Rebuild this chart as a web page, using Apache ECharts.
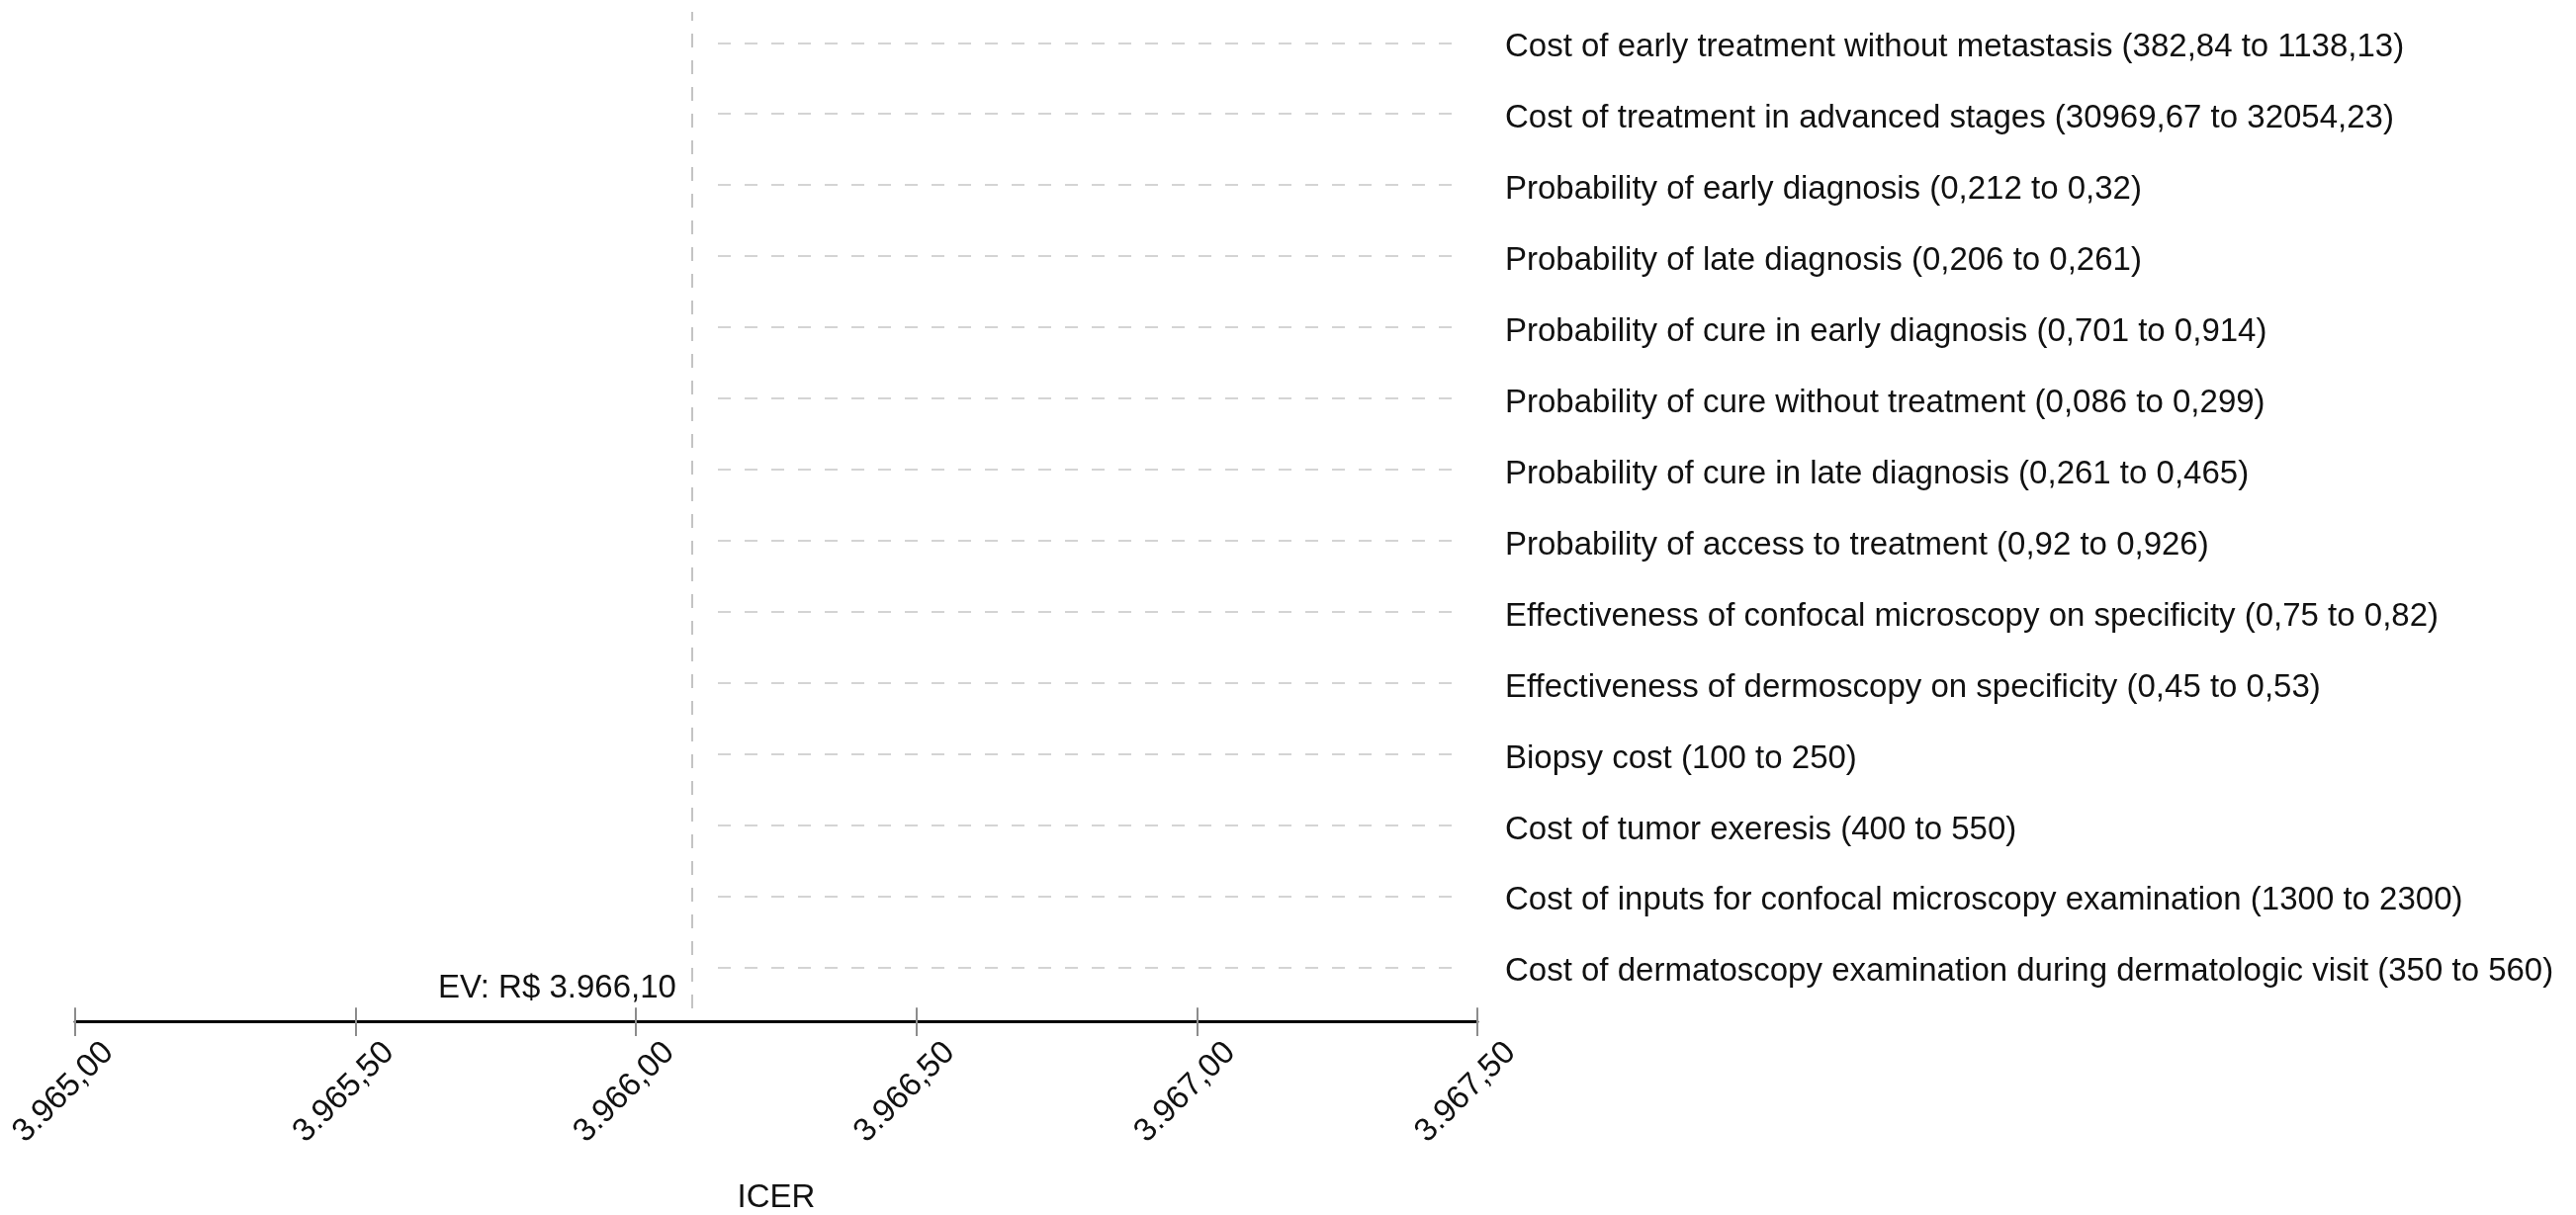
<!DOCTYPE html>
<html>
<head>
<meta charset="utf-8">
<script src="https://cdn.jsdelivr.net/npm/echarts@6/dist/echarts.min.js"></script>
<style>
html,body{margin:0;padding:0;background:#ffffff;}
#chart{width:2605px;height:1229px;}
</style>
</head>
<body>
<div id="chart"></div>
<script>
// ---- data ----
const parameters = [
  'Cost of early treatment without metastasis (382,84 to 1138,13)',
  'Cost of treatment in advanced stages (30969,67 to 32054,23)',
  'Probability of early diagnosis (0,212 to 0,32)',
  'Probability of late diagnosis (0,206 to 0,261)',
  'Probability of cure in early diagnosis (0,701 to 0,914)',
  'Probability of cure without treatment (0,086 to 0,299)',
  'Probability of cure in late diagnosis (0,261 to 0,465)',
  'Probability of access to treatment (0,92 to 0,926)',
  'Effectiveness of confocal microscopy on specificity (0,75 to 0,82)',
  'Effectiveness of dermoscopy on specificity (0,45 to 0,53)',
  'Biopsy cost (100 to 250)',
  'Cost of tumor exeresis (400 to 550)',
  'Cost of inputs for confocal microscopy examination (1300 to 2300)',
  'Cost of dermatoscopy examination during dermatologic visit (350 to 560)'
];
const lowIcer  = [3966.10, 3966.10, 3966.10, 3966.10, 3966.10, 3966.10, 3966.10,
                  3966.10, 3966.10, 3966.10, 3966.10, 3966.10, 3966.10, 3966.10];
const highIcer = [3966.10, 3966.10, 3966.10, 3966.10, 3966.10, 3966.10, 3966.10,
                  3966.10, 3966.10, 3966.10, 3966.10, 3966.10, 3966.10, 3966.10];
const evValue = 3966.10;
const evLabel = 'EV: R$ 3.966,10';
const axisMin = 3965.0;
const axisMax = 3967.5;
const axisStep = 0.5;
const tickLabels = ['3.965,00', '3.965,50', '3.966,00', '3.966,50', '3.967,00', '3.967,50'];
const axisTitle = 'ICER';

// ---- chart ----
const FONT = "'Liberation Sans', Arial, Helvetica, sans-serif";
const FS = 33;
const chart = echarts.init(document.getElementById('chart'), null, {renderer: 'canvas'});

const tornadoData = parameters.map((p, i) => [lowIcer[i], highIcer[i], i]);

const option = {
  animation: false,
  backgroundColor: '#ffffff',
  textStyle: {fontFamily: FONT},
  grid: [
    {left: 76, right: 1111, top: 12, bottom: 209},          // EV line
    {left: 76, right: 1111, top: 48.3, bottom: 245.7},      // rows / labels / bars
    {left: 726, right: 1125, top: 43.3, bottom: 250.7},     // row guide lines
    {left: 76, right: 1111, top: 1000, bottom: 195.7},      // main axis (outside ticks)
    {left: 76, right: 1111, top: 1000, bottom: 195.7}       // main axis (inside ticks)
  ],
  xAxis: [
    {gridIndex: 0, type: 'value', min: axisMin, max: axisMax, show: false},
    {gridIndex: 1, type: 'value', min: axisMin, max: axisMax, show: false},
    {gridIndex: 2, type: 'value', min: 0, max: 1, show: false},
    {
      gridIndex: 3, type: 'value', min: axisMin, max: axisMax, interval: axisStep,
      position: 'bottom',
      axisLine: {show: true, lineStyle: {color: '#000000', width: 3}},
      axisTick: {show: true, inside: false, length: 15, lineStyle: {color: '#8c8c8c', width: 2}},
      splitLine: {show: false},
      axisLabel: {
        show: true, rotate: 45, margin: -7, verticalAlign: 'top', padding: [31, 0, 0, 0],
        fontSize: FS, color: '#111111', fontFamily: FONT,
        formatter: (v, idx) => tickLabels[idx]
      },
      name: axisTitle, nameLocation: 'middle', nameGap: 162,
      nameTextStyle: {fontSize: FS, color: '#111111', fontFamily: FONT}
    },
    {
      gridIndex: 4, type: 'value', min: axisMin, max: axisMax, interval: axisStep,
      position: 'bottom',
      axisLine: {show: false},
      axisTick: {show: true, inside: true, length: 14, lineStyle: {color: '#8c8c8c', width: 2}},
      splitLine: {show: false},
      axisLabel: {show: false}
    }
  ],
  yAxis: [
    {gridIndex: 0, type: 'value', min: 0, max: 1, show: false},
    {
      gridIndex: 1, type: 'category', data: parameters, inverse: true, boundaryGap: false,
      position: 'right',
      axisLine: {show: false}, axisTick: {show: false}, splitLine: {show: false},
      axisLabel: {
        show: true, margin: 28, fontSize: FS, color: '#111111', fontFamily: FONT,
        align: 'left', interval: 0
      }
    },
    {
      gridIndex: 2, type: 'category', data: parameters, inverse: true, boundaryGap: false,
      axisLine: {show: false}, axisTick: {show: false}, axisLabel: {show: false},
      splitLine: {show: true, interval: 0, lineStyle: {color: '#d4d4d4', width: 2, type: [13, 14]}}
    },
    {gridIndex: 3, type: 'value', min: 0, max: 1, show: false},
    {gridIndex: 4, type: 'value', min: 0, max: 1, show: false}
  ],
  series: [
    {
      type: 'scatter', xAxisIndex: 0, yAxisIndex: 0,
      data: [[evValue, 0]], symbolSize: 0, silent: true,
      itemStyle: {opacity: 1},
      label: {
        show: true, formatter: evLabel, position: [-16, -20],
        align: 'right', verticalAlign: 'middle', opacity: 1,
        fontSize: FS, color: '#111111', fontFamily: FONT
      },
      markLine: {
        silent: true, symbol: 'none', label: {show: false},
        lineStyle: {color: '#c4c4c4', width: 2, type: [14, 13], opacity: 1},
        data: [{xAxis: evValue}]
      }
    },
    {
      type: 'custom', xAxisIndex: 1, yAxisIndex: 1,
      data: tornadoData,
      encode: {x: [0, 1], y: 2},
      renderItem: function (params, api) {
        const s = api.coord([api.value(0), api.value(2)]);
        const e = api.coord([api.value(1), api.value(2)]);
        const h = 30;
        return {
          type: 'rect',
          shape: {x: Math.min(s[0], e[0]), y: s[1] - h / 2, width: Math.abs(e[0] - s[0]), height: h},
          style: {fill: '#4a6fa5'}
        };
      }
    }
  ]
};
chart.setOption(option);
</script>
</body>
</html>
